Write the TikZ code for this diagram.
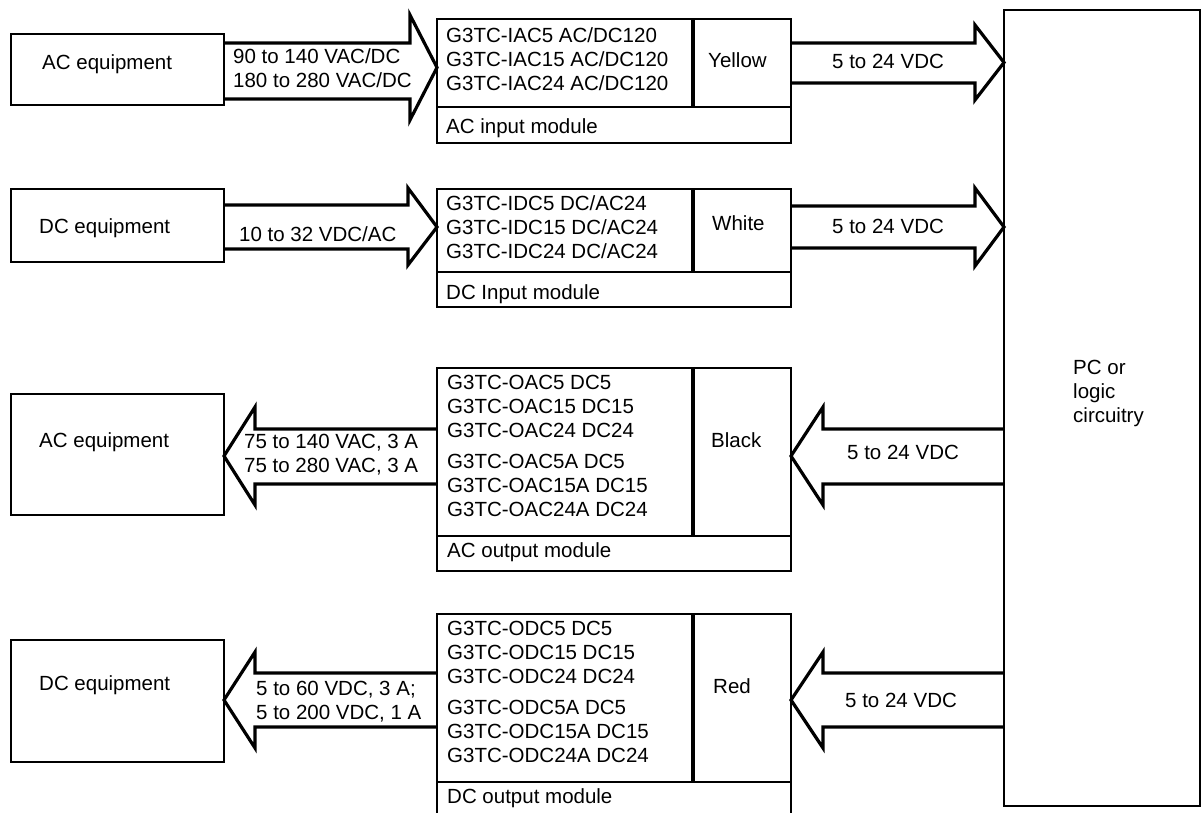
\documentclass[tikz,border=0pt]{standalone}
\usepackage{fontspec}
\setmainfont{Liberation Sans}
\begin{document}
\begin{tikzpicture}[x=1pt,y=-1pt,
  every node/.style={font=\fontsize{20.5}{24}\selectfont},
  eqbox/.style={draw, line width=1.6pt, outer sep=0pt, inner sep=0pt, anchor=north west, minimum width=213pt},
  modbox/.style={draw, line width=1.5pt, outer sep=0pt, inner sep=0pt, anchor=north west, minimum width=354pt},
  colsep/.style={line width=3.3pt},
  rowsep/.style={line width=1.5pt},
  barrow/.style={draw, line width=3.2pt, fill=white, line join=miter, miter limit=10},
  lbl/.style={inner sep=0pt, anchor=base west}]
\useasboundingbox (0,0) rectangle (1202,812);
\clip (0,0) rectangle (1202,812);

% boxes (named, drawn first so arrows can refer to them)
\node[eqbox, minimum height=71pt] (eq1) at (11,34) {};
\node[eqbox, minimum height=73pt] (eq2) at (11,189) {};
\node[eqbox, minimum height=121pt] (eq3) at (11,394) {};
\node[eqbox, minimum height=122pt] (eq4) at (11,640) {};

\node[modbox, minimum height=124pt] (m1) at (437,19) {};
\node[modbox, minimum height=118pt] (m2) at (437,189) {};
\node[modbox, minimum height=203pt] (m3) at (437,368) {};
\node[modbox, minimum height=203pt] (m4) at (437,614) {};

\node[draw, line width=1.6pt, outer sep=0pt, inner sep=0pt, anchor=north west,
      minimum width=196pt, minimum height=796pt] (pc) at (1004,10) {};

% block arrows
\draw[barrow] (eq1.east |- 0,43) -- (410,43) -- (410,15) -- (m1.west |- 0,67.5)
   -- (410,120) -- (410,99) -- (eq1.east |- 0,99);
\draw[barrow] (m1.east |- 0,43) -- (975,43) -- (975,25) -- (pc.west |- 0,62.5)
   -- (975,100) -- (975,83) -- (m1.east |- 0,83);
\draw[barrow] (eq2.east |- 0,205) -- (408,205) -- (408,188) -- (m2.west |- 0,227)
   -- (408,265) -- (408,249) -- (eq2.east |- 0,249);
\draw[barrow] (m2.east |- 0,206) -- (975,206) -- (975,188) -- (pc.west |- 0,227)
   -- (975,266) -- (975,248) -- (m2.east |- 0,248);
\draw[barrow] (pc.west |- 0,429) -- (823,429) -- (823,407) -- (m3.east |- 0,456)
   -- (823,505) -- (823,484) -- (pc.west |- 0,484);
\draw[barrow] (m3.west |- 0,429) -- (255,429) -- (255,407) -- (eq3.east |- 0,456)
   -- (255,505) -- (255,484) -- (m3.west |- 0,484);
\draw[barrow] (pc.west |- 0,673) -- (823,673) -- (823,652) -- (m4.east |- 0,700)
   -- (823,748) -- (823,727) -- (pc.west |- 0,727);
\draw[barrow] (m4.west |- 0,673) -- (255,673) -- (255,652) -- (eq4.east |- 0,700)
   -- (255,748) -- (255,727) -- (m4.west |- 0,727);

% redraw box outlines on top
\draw[line width=1.6pt] (eq1.north west) rectangle (eq1.south east);
\draw[line width=1.6pt] (eq2.north west) rectangle (eq2.south east);
\draw[line width=1.6pt] (eq3.north west) rectangle (eq3.south east);
\draw[line width=1.6pt] (eq4.north west) rectangle (eq4.south east);
\draw[line width=1.5pt] (m1.north west) rectangle (m1.south east);
\draw[line width=1.5pt] (m2.north west) rectangle (m2.south east);
\draw[line width=1.5pt] (m3.north west) rectangle (m3.south east);
\draw[line width=1.5pt] (m4.north west) rectangle (m4.south east);
\draw[line width=1.6pt] (pc.north west) rectangle (pc.south east);

% module inner divisions
\draw[colsep] (693,19) -- (693,107);
\draw[rowsep] (437,107) -- (791,107);
\draw[colsep] (693,189) -- (693,272);
\draw[rowsep] (437,272) -- (791,272);
\draw[colsep] (693,368) -- (693,536);
\draw[rowsep] (437,536) -- (791,536);
\draw[colsep] (693,614) -- (693,782);
\draw[rowsep] (437,782) -- (791,782);

% equipment labels
\node[lbl] (t-eq1) at (42,69.5) {AC equipment};
\node[lbl] (t-eq2) at (39,233) {DC equipment};
\node[lbl] (t-eq3) at (39,447) {AC equipment};
\node[lbl] (t-eq4) at (39,690) {DC equipment};

% module 1
\node[lbl] (m1a) at (446,42) {G3TC-IAC5 AC/DC120};
\node[lbl] (m1b) at (446,66) {G3TC-IAC15 AC/DC120};
\node[lbl] (m1c) at (446,90) {G3TC-IAC24 AC/DC120};
\node[lbl] (m1col) at (708,67) {Yellow};
\node[lbl] (m1name) at (446,133) {AC input module};

% module 2
\node[lbl] (m2a) at (446,210) {G3TC-IDC5 DC/AC24};
\node[lbl] (m2b) at (446,234) {G3TC-IDC15 DC/AC24};
\node[lbl] (m2c) at (446,258) {G3TC-IDC24 DC/AC24};
\node[lbl] (m2col) at (712,230) {White};
\node[lbl] (m2name) at (446,299) {DC Input module};

% module 3
\node[lbl] (m3a) at (447,389) {G3TC-OAC5 DC5};
\node[lbl] (m3b) at (447,413.5) {G3TC-OAC15 DC15};
\node[lbl] (m3c) at (447,437.5) {G3TC-OAC24 DC24};
\node[lbl] (m3d) at (447,468.5) {G3TC-OAC5A DC5};
\node[lbl] (m3e) at (447,492.5) {G3TC-OAC15A DC15};
\node[lbl] (m3f) at (447,516.5) {G3TC-OAC24A DC24};
\node[lbl] (m3col) at (711,447) {Black};
\node[lbl] (m3name) at (447,557) {AC output module};

% module 4
\node[lbl] (m4a) at (447,635) {G3TC-ODC5 DC5};
\node[lbl] (m4b) at (447,659.5) {G3TC-ODC15 DC15};
\node[lbl] (m4c) at (447,683.5) {G3TC-ODC24 DC24};
\node[lbl] (m4d) at (447,714.5) {G3TC-ODC5A DC5};
\node[lbl] (m4e) at (447,738.5) {G3TC-ODC15A DC15};
\node[lbl] (m4f) at (447,762.5) {G3TC-ODC24A DC24};
\node[lbl] (m4col) at (713,693) {Red};
\node[lbl] (m4name) at (447,803) {DC output module};

% PC
\node[lbl] (pc1) at (1073,374) {PC or};
\node[lbl] (pc2) at (1073,398) {logic};
\node[lbl] (pc3) at (1073,422) {circuitry};

% arrow labels
\node[lbl] (a1a) at (233,63.5) {90 to 140 VAC/DC};
\node[lbl] (a1b) at (233,87.5) {180 to 280 VAC/DC};
\node[lbl] (a2) at (832,68.5) {5 to 24 VDC};
\node[lbl] (a3) at (239,241.5) {10 to 32 VDC/AC};
\node[lbl] (a4) at (832,233) {5 to 24 VDC};
\node[lbl] (a5) at (847,459.5) {5 to 24 VDC};
\node[lbl] (a6a) at (244,448.5) {75 to 140 VAC, 3 A};
\node[lbl] (a6b) at (244,472.5) {75 to 280 VAC, 3 A};
\node[lbl] (a7) at (845,707.5) {5 to 24 VDC};
\node[lbl] (a8a) at (256,695) {5 to 60 VDC, 3 A;};
\node[lbl] (a8b) at (256,719) {5 to 200 VDC, 1 A};
\end{tikzpicture}
\end{document}
